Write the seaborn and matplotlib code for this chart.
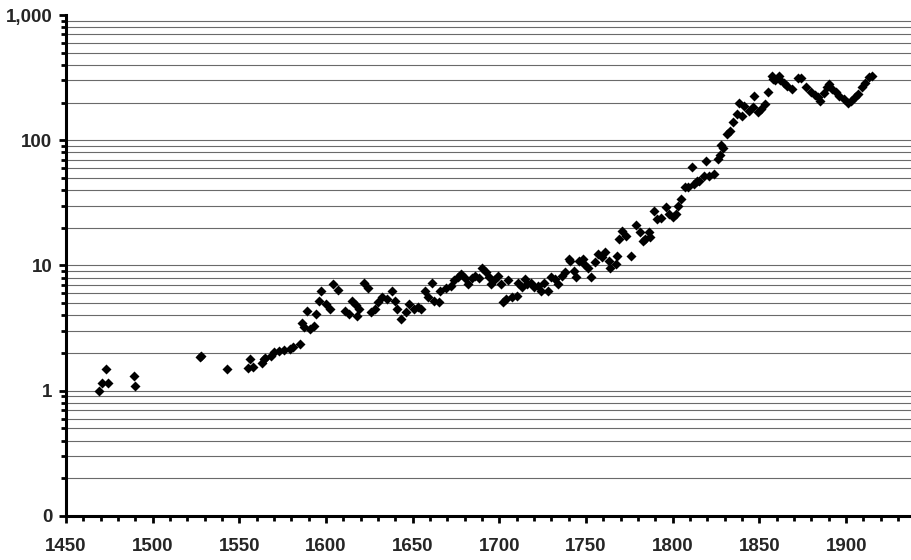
import matplotlib
matplotlib.use("Agg")
import matplotlib.pyplot as plt
from matplotlib.ticker import FixedLocator, FixedFormatter, MultipleLocator
import numpy as np
import pandas as pd
import seaborn as sns

# Yearly index values (log scale)
years = [
    1469, 1471, 1473, 1474, 1489, 1490, 1527, 1528, 1543, 1555, 1556, 1558,
    1563, 1564, 1565, 1568, 1570, 1573, 1576, 1579, 1581, 1585,
    1586, 1587, 1589, 1591, 1593, 1594, 1596, 1597, 1600, 1602, 1604, 1607,
    1611, 1613, 1615, 1617, 1618, 1619, 1622, 1624, 1626, 1628, 1630, 1632,
    1635, 1638, 1640, 1641, 1643, 1646, 1648, 1651, 1653,
    1655, 1657, 1659, 1661, 1662, 1665, 1666, 1669, 1672, 1674, 1676, 1678,
    1680, 1682, 1684, 1686, 1688, 1690, 1692, 1694, 1695, 1697, 1699, 1701,
    1702, 1704, 1705, 1707, 1710, 1711, 1713, 1715, 1716, 1718, 1720, 1722,
    1724, 1726, 1728, 1730, 1732, 1734, 1736, 1738, 1740,
    1741, 1743, 1744, 1746, 1748, 1749, 1751, 1753, 1755, 1757, 1759, 1761,
    1763, 1764, 1767, 1768, 1769, 1771, 1773, 1776, 1779, 1781, 1783, 1784,
    1786, 1787, 1789, 1791, 1793, 1796, 1798, 1800, 1802, 1803, 1805, 1807,
    1809, 1811, 1812, 1814,
    1815, 1818, 1819, 1821, 1824, 1826, 1827, 1828, 1829, 1831, 1833, 1835,
    1837, 1838, 1840, 1841, 1844, 1846, 1847, 1849, 1851, 1853, 1855, 1857,
    1858, 1859, 1861, 1862, 1864, 1866, 1869, 1872,
    1874, 1877, 1880, 1882, 1884, 1885, 1887, 1889, 1890, 1892, 1894, 1896,
    1899, 1901, 1903, 1905, 1907, 1909, 1911, 1913, 1915,
]
values = [
    1.0, 1.16, 1.48, 1.16, 1.31, 1.09, 1.87, 1.9, 1.5, 1.51, 1.79, 1.56,
    1.68, 1.79, 1.81, 1.9, 2.02, 2.08, 2.1, 2.15, 2.24, 2.37,
    3.5, 3.2, 4.35, 3.1, 3.3, 4.1, 5.2, 6.3, 4.9, 4.5, 7.1, 6.4,
    4.35, 4.1, 5.2, 4.8, 3.97, 4.5, 7.3, 6.6, 4.25, 4.5, 5.07, 5.6,
    5.4, 6.3, 5.2, 4.5, 3.74, 4.25, 4.9, 4.5, 4.7,
    4.5, 6.3, 5.6, 7.3, 5.2, 5.07, 6.3, 6.6, 6.8, 7.6, 8.1, 8.6,
    7.9, 7.1, 7.9, 8.3, 7.9, 9.6, 8.9, 8.05, 7.1, 7.6, 8.3, 7.1,
    5.07, 5.4, 7.6, 5.6, 5.75, 7.3, 6.7, 7.8, 7.1, 7.3, 6.7, 6.9,
    6.3, 7.3, 6.3, 8.05, 7.8, 7.1, 8.3, 8.8, 11.3,
    10.9, 9.1, 8.05, 10.9, 11.3, 10.3, 9.6, 8.05, 10.6, 12.3, 11.6, 12.8,
    10.9, 9.6, 10.3, 12.0, 16.3, 19.0, 17.3, 12.0, 21.0, 18.4, 15.8, 16.3,
    18.4, 16.8, 27.3, 23.3, 24.0, 29.1, 25.7, 24.5, 25.7, 30.0, 34.0, 42.1,
    42.1, 60.6, 44.8, 47.6,
    47.6, 52.2, 68.6, 52.0, 53.8, 70.7, 76.4, 91.8, 86.3, 112, 119, 139,
    162, 200, 157, 189, 172, 183, 227, 167, 177, 195, 241, 327,
    310, 302, 327, 302, 285, 272, 255, 312,
    312, 265, 241, 230, 220, 206, 240, 265, 282, 255, 241, 227,
    214, 200, 206, 220, 233, 265, 289, 318, 327,
]

y_ticks = [0.1, 1, 10, 100, 1000]
y_tick_labels = ["0", "1", "10", "100", "1,000"]

df = pd.DataFrame({"year": years, "value": values})

sns.set_style("white")
plt.rcParams["font.family"] = ["Liberation Sans", "DejaVu Sans"]
plt.rcParams["font.weight"] = "bold"

fig = plt.figure(figsize=(9.12, 5.6), dpi=100)
ax = fig.add_axes([0.0724, 0.0786, 0.9276, 0.8946])

sns.scatterplot(data=df, x="year", y="value", marker="D", s=26,
                color="black", edgecolor="black", linewidth=0, ax=ax,
                zorder=3, legend=False)

ax.set_yscale("log")
ax.set_ylim(0.1, 1000)
ax.set_xlim(1450, 1938)

ax.yaxis.set_major_locator(FixedLocator(y_ticks))
ax.yaxis.set_major_formatter(FixedFormatter(y_tick_labels))
minor = [m * 10.0 ** e for e in range(-1, 3) for m in range(2, 10)]
ax.yaxis.set_minor_locator(FixedLocator(minor))
ax.yaxis.set_minor_formatter(FixedFormatter([""] * len(minor)))

ax.xaxis.set_major_locator(MultipleLocator(50))
ax.xaxis.set_minor_locator(MultipleLocator(10))

ax.grid(False)
for v in [1, 10, 100] + minor:
    if v > 0.1:
        ax.axhline(v, color="#6a6a6a", linewidth=0.8, zorder=1)

for side in ("top", "right"):
    ax.spines[side].set_visible(False)
for side in ("left", "bottom"):
    ax.spines[side].set_color("black")
    ax.spines[side].set_linewidth(2.2)

ax.tick_params(axis="both", which="major", direction="out", length=5,
               width=2.0, color="black", labelsize=13.5)
ax.tick_params(axis="both", which="minor", direction="out", length=3.5,
               width=2.0, color="black")
ax.tick_params(axis="x", which="major", pad=11)
ax.tick_params(axis="y", which="major", pad=5)
ax.tick_params(axis="x", which="both", bottom=True)
ax.tick_params(axis="y", which="both", left=True)
for lbl in ax.get_xticklabels() + ax.get_yticklabels():
    lbl.set_fontweight("bold")

ax.set_xlabel("")
ax.set_ylabel("")

fig.savefig("out.png", dpi=100)
